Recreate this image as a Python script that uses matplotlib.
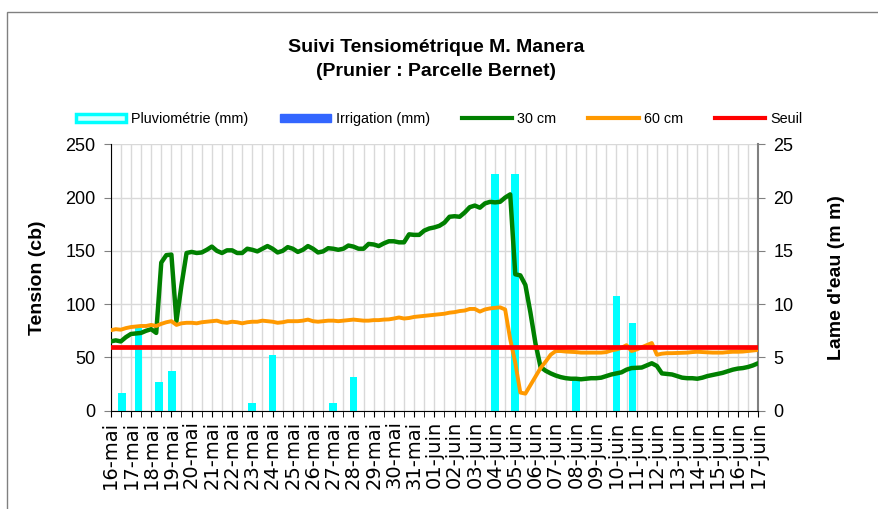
import pandas as pd
import matplotlib
matplotlib.use("Agg")
import matplotlib.pyplot as plt
import matplotlib.dates as mdates
from matplotlib.patches import Patch, Rectangle
from matplotlib.lines import Line2D
from matplotlib.ticker import FuncFormatter, MultipleLocator

plt.rcParams['font.family'] = ['Liberation Sans', 'DejaVu Sans']

# tension readings every 6 h from 16 May 00:00
DEBUT = "2009-05-16 00:00"
FIN = "2009-06-17 00:00"
PAS = "6h"

tension_30 = [
    65, 66, 65, 69, 72, 72.5, 73, 75,
    76.5, 73, 139, 146, 146.5, 84, 118, 148,
    149, 148, 148.5, 151, 154, 150, 148, 150.5,
    150.5, 148, 148, 152, 151, 149.5, 152, 154.5,
    152, 148.5, 150, 153.5, 152, 149, 151, 154.5,
    152, 148.5, 149.5, 152.5, 152, 151, 152, 155,
    154, 152, 152, 156.5, 156, 154.5, 157, 159,
    159, 158, 158, 165.5, 165, 165, 169, 171,
    172, 173.5, 176.5, 182, 182.5, 182, 186, 191,
    192.5, 190.5, 194.5, 196, 195.5, 196, 200, 203,
    128, 127, 118, 92, 63, 41, 37.5, 35,
    33, 31.5, 30.5, 30, 30, 29.5, 30, 30.5,
    30.5, 31, 32.5, 34, 35, 36, 38.5, 40,
    40.3, 40.5, 42.5, 44.5, 42, 35, 34.5, 34,
    32.5, 31, 30.5, 30.5, 30, 31, 32.5, 33.5,
    34.5, 35.5, 37, 38.5, 39.5, 40, 41, 42.5,
    44.5,
]

tension_60 = [
    75.5, 76.5, 76, 77.5, 78.5, 79, 79.5, 79.5,
    80.5, 79.5, 81.5, 83, 84, 80.5, 82, 82.5,
    82.5, 82, 83, 83.5, 84, 84.5, 83, 82.5,
    83.5, 83, 82, 83, 83.5, 83.5, 84.5, 84,
    83.5, 82.5, 83, 84, 84, 84, 84.5, 85.5,
    84, 83.5, 84, 84.5, 84.5, 84, 84.5, 85,
    85.5, 85, 84.5, 84.5, 85, 85, 85.5, 85.7,
    86.5, 87.5, 86.5, 87, 88, 88.5, 89, 89.5,
    90, 90.5, 91, 92, 92.5, 93.5, 94, 95.5,
    95.5, 93, 95, 96, 96.5, 97, 95, 67,
    45, 17, 16, 24, 32, 40, 46, 52.5,
    56, 56, 55.5, 55.3, 55, 54.5, 54.5, 54.5,
    54.5, 54.5, 55, 56.5, 57.5, 59, 61.5, 56,
    57.5, 59.5, 61.5, 63.5, 52.5, 53.5, 54, 54,
    54.2, 54.4, 54.5, 55, 55.3, 55, 54.8, 54.5,
    54.5, 54.5, 55, 55.3, 55.3, 55.5, 56, 56.5,
    57,
]

seuil = 60

pluie_dates = ["2009-05-16 13:00", "2009-05-17 09:00", "2009-05-18 09:00",
               "2009-05-19 01:00", "2009-05-23 00:00", "2009-05-24 00:00",
               "2009-05-27 00:00", "2009-05-28 00:00", "2009-06-04 00:00",
               "2009-06-05 00:00", "2009-06-08 00:00", "2009-06-10 00:00",
               "2009-06-10 19:00"]
pluie_mm = [1.7, 7.8, 2.7, 3.7, 0.7, 5.2, 0.7, 3.2, 22.2, 22.2, 2.8, 10.8, 8.2]

irrigation_dates = []
irrigation_mm = []

mois = {5: "mai", 6: "juin"}

dates = pd.date_range(DEBUT, periods=len(tension_30), freq=PAS)
pluie_t = pd.to_datetime(pluie_dates)

fig = plt.figure(figsize=(8.79, 5.09), dpi=100)
rect = [110.7 / 879, 1 - 410.7 / 509, (758 - 110.7) / 879, (410.7 - 144.3) / 509]

ax_p = fig.add_axes(rect)
ax_t = fig.add_axes(rect, sharex=ax_p)
ax_t.patch.set_visible(False)

# rain bars (right axis)
ax_p.bar(pluie_t, pluie_mm, width=0.38, color="#00FFFF", zorder=2)
ax_p.bar(pd.to_datetime(irrigation_dates), irrigation_mm, width=0.38, color="#3366FF", zorder=2)
ax_p.set_ylim(0, 25)
ax_p.yaxis.set_major_locator(MultipleLocator(5))
ax_p.yaxis.tick_right()
ax_p.yaxis.set_label_position("right")
ax_p.set_ylabel("Lame d'eau (m m)", fontsize=14, fontweight="bold", labelpad=25)
ax_p.tick_params(axis="y", direction="out", length=5, color="#808080", labelsize=13, pad=6)

ax_p.set_xlim(pd.Timestamp(DEBUT), pd.Timestamp(FIN))
ax_p.xaxis.set_major_locator(mdates.DayLocator())
ax_p.xaxis.set_minor_locator(mdates.HourLocator(byhour=[12]))
ax_p.xaxis.set_major_formatter(FuncFormatter(
    lambda v, pos: "%02d-%s" % (mdates.num2date(v).day, mois[mdates.num2date(v).month])))
ax_p.tick_params(axis="x", which="both", direction="out", length=4, color="black",
                 labelsize=14, labelrotation=90, pad=3)
for lab in ax_p.get_xticklabels():
    lab.set_family("DejaVu Sans")

ax_p.set_axisbelow(True)
ax_p.grid(True, which="both", color="#D9D9D9", linewidth=1)
for s in ("top", "left"):
    ax_p.spines[s].set_visible(False)
ax_p.spines["right"].set_color("#808080")
ax_p.spines["right"].set_linewidth(1.5)
ax_p.spines["bottom"].set_color("black")

# tension lines (left axis)
ax_t.plot(dates, tension_30, color="#008000", linewidth=3.2, solid_capstyle="round", zorder=3)
ax_t.plot(dates, tension_60, color="#FF9900", linewidth=2.8, solid_capstyle="round", zorder=3)
ax_t.plot([dates[0], dates[-1]], [seuil, seuil], color="#FF0000", linewidth=3.4, zorder=4)
ax_t.set_ylim(0, 250)
ax_t.yaxis.set_major_locator(MultipleLocator(50))
ax_t.tick_params(axis="y", direction="out", length=5, color="#808080", labelsize=13, pad=6)
ax_t.set_ylabel("Tension (cb)", fontsize=14, fontweight="bold", labelpad=14)
ax_t.xaxis.set_visible(False)
for s in ("top", "right", "bottom"):
    ax_t.spines[s].set_visible(False)
ax_t.spines["left"].set_color("black")

# legend
handles = [
    Patch(facecolor="#DDFFFF", edgecolor="#00FFFF", linewidth=2.5),
    Patch(facecolor="#3366FF", edgecolor="#3366FF"),
    Line2D([], [], color="#008000", linewidth=3),
    Line2D([], [], color="#FF9900", linewidth=3),
    Line2D([], [], color="#FF0000", linewidth=3),
]
labels = ["Pluviométrie (mm)", "Irrigation (mm)", "30 cm", "60 cm", "Seuil"]
fig.legend(handles, labels, loc="center", bbox_to_anchor=(0.4995, 1 - 119 / 509), ncol=5,
           frameon=False, fontsize=10.4, handlelength=3.5, handleheight=0.55,
           handletextpad=0.35, columnspacing=2.2)

# title
fig.text(0.496, 1 - 47 / 509, "Suivi Tensiométrique M. Manera", ha="center", va="center",
         fontsize=14, fontweight="bold")
fig.text(0.496, 1 - 72 / 509, "(Prunier : Parcelle Bernet)", ha="center", va="center",
         fontsize=14, fontweight="bold")

# chart area border
fig.patches.append(Rectangle((7 / 879, -0.1), 1.2, 1.1 - 12 / 509, transform=fig.transFigure,
                             fill=False, edgecolor="#808080", linewidth=1))

fig.savefig("out.png", dpi=100)
